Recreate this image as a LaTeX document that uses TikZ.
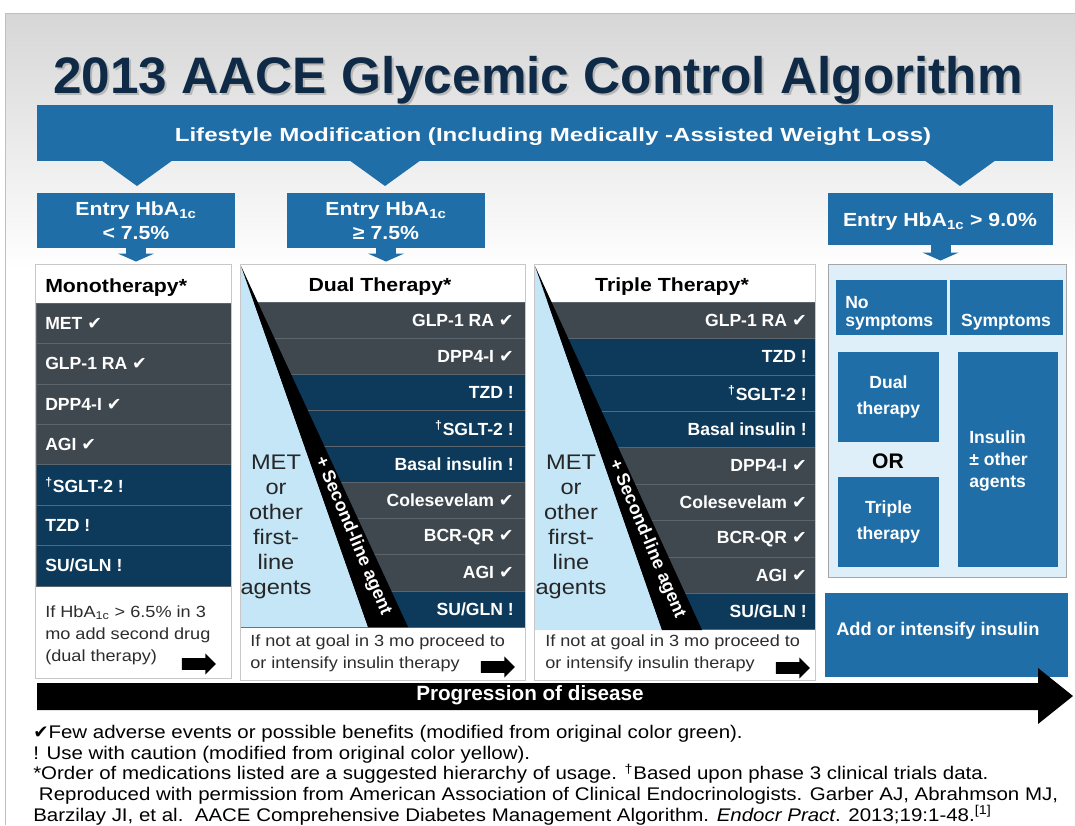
\documentclass[tikz,border=0pt]{standalone}
\usepackage{fontspec}
\setmainfont{Liberation Sans}
\newfontfamily\wideft{Liberation Sans}[FakeStretch=1.12]
\newfontfamily\widerft{Liberation Sans}[FakeStretch=1.27]
\newfontfamily\symfont{DejaVu Sans}
\usetikzlibrary{fit,arrows.meta,shapes.arrows}

\definecolor{aaceblue}{RGB}{31,110,168}
\definecolor{rowgray}{RGB}{63,71,79}
\definecolor{rownavy}{RGB}{13,57,90}
\definecolor{rowline}{RGB}{92,100,108}
\definecolor{wedgeblue}{RGB}{196,230,247}
\definecolor{panelblue}{RGB}{223,239,249}
\definecolor{titlenavy}{RGB}{15,42,70}
\definecolor{notegray}{RGB}{45,45,45}

\newcommand{\chk}{{\symfont ✔}}
\newcommand{\hba}{HbA\textsubscript{1c}}
\newcommand{\dg}{\textsuperscript{†}}

\begin{document}
\begin{tikzpicture}[x=0.025cm, y=-0.025cm,
    bluebox/.style={inner sep=0pt, fill=aaceblue, fit={#1}},
    bluetext/.style={inner sep=0pt, text=white, align=center, font=\fontsize{12.5}{12.8}\selectfont\bfseries},
    entrytext/.style={inner sep=0pt, text=white, align=center, font=\wideft\fontsize{13.5}{16.4}\selectfont\bfseries},
    colframe/.style={draw=black!22, line width=0.8pt},
    rowbox/.style={fill=#1, draw=rowline, line width=0.4pt},
    rowtext/.style={text=white, inner sep=0pt, font=\fontsize{12.5}{14}\selectfont\bfseries},
    headtext/.style={inner sep=0pt, font=\wideft\fontsize{13.5}{16}\selectfont\bfseries},
    notetext/.style={inner sep=0pt, text=notegray, align=left, font=\wideft\fontsize{11.5}{15.6}\selectfont},
    firstline/.style={inner sep=0pt, text=black!85, align=center, font=\wideft\fontsize{15}{17.8}\selectfont},
    wedgetext/.style={inner sep=0pt, text=white, rotate=-67, font=\fontsize{12.8}{14}\selectfont\bfseries},
    blkarrow/.style={single arrow, fill=black, inner xsep=0pt, inner ysep=0.14cm,
        minimum height=0.85cm, single arrow head extend=0.12cm},
    downarrow/.style={draw=aaceblue, line width=0.5cm,
        -{Triangle[length=0.2cm, width=0.9cm]}, shorten >=0.08cm},
  ]
  \useasboundingbox (0,0) rectangle (1075,825);

  % Background
  \fill[white] (0,0) rectangle (1075,825);
  \shade[top color=black!16, bottom color=white] (5,13) rectangle (1075,270);
  \draw[black!25] (5,825) -- (5,13) -- (1075,13);

  % Title
  \node[anchor=base, text=black!28, font=\fontsize{36.5}{40}\selectfont\bfseries] (titleshadow) at (540,95) {2013 AACE Glycemic Control Algorithm};
  \node[anchor=base, text=titlenavy, font=\fontsize{36.5}{40}\selectfont\bfseries] (title) at (538,93) {2013 AACE Glycemic Control Algorithm};

  % Lifestyle banner
  \node[bluebox={(37,105) (1053,161)}] (banner) {};
  \node[anchor=base, text=white, font=\widerft\fontsize{13.5}{16}\selectfont\bfseries] (bannertext) at (553,141)
    {Lifestyle Modification (Including Medically -Assisted Weight Loss)};
  \foreach \tx in {137,385,960}
    \fill[aaceblue] (\tx-36,160) -- (\tx+36,160) -- (\tx,186) -- cycle;

  % Entry HbA1c
  \node[bluebox={(37,193) (235,248)}] (entrylow) {};
  \node[entrytext, anchor=base] (entrylowtext) at (136,239) {Entry \hba\\< 7.5\%};
  \node[bluebox={(287,193) (485,248)}] (entrymid) {};
  \node[entrytext, anchor=base] (entrymidtext) at (386,239) {Entry \hba\\≥ 7.5\%};
  \node[bluebox={(828,193) (1053,245)}] (entryhigh) {};
  \node[entrytext, anchor=base] (entryhightext) at (940,226) {Entry \hba{} > 9.0\%};

  % Monotherapy
  \node[fit={(36,265) (231,678)}, inner sep=0pt, fill=white] (mono) {};
  \node[headtext, anchor=base west] (monohead) at (45,292) {Monotherapy*};
  \foreach \lbl/\col [count=\i] in {MET \chk/rowgray, GLP-1 RA \chk/rowgray, DPP4-I \chk/rowgray,
      AGI \chk/rowgray, \dg SGLT-2 !/rownavy, TZD !/rownavy, SU\slash GLN !/rownavy}{
    \filldraw[rowbox=\col] (36,{303+(\i-1)*40.4}) rectangle (231,{303+\i*40.4});
    \node[rowtext, anchor=west] (mono\i) at (45,{303+(\i-0.5)*40.4}) {\lbl};
  }
  \node[notetext, anchor=base west] (mononote) at (45,661) {If \hba{} > 6.5\% in 3\\mo add second drug\\(dual therapy)};
  \node[blkarrow] (monoarrow) at (196,664) {};
  \draw[colframe] (mono.north west) rectangle (mono.south east);

  % Dual therapy
  \node[fit={(241,265) (525,680)}, inner sep=0pt, fill=white] (dual) {};
  \node[headtext, anchor=base] (dualhead) at (380,291) {Dual Therapy*};
  \foreach \lbl/\col [count=\i] in {GLP-1 RA \chk/rowgray, DPP4-I \chk/rowgray, TZD !/rownavy,
      \dg SGLT-2 !/rownavy, Basal insulin !/rownavy, Colesevelam \chk/rowgray,
      BCR-QR \chk/rowgray, AGI \chk/rowgray, SU\slash GLN !/rownavy}{
    \filldraw[rowbox=\col] (241,{302+(\i-1)*36.1}) rectangle (525,{302+\i*36.1});
    \node[rowtext, anchor=east] (dual\i) at (514,{302+(\i-0.5)*36.1}) {\lbl};
  }
  \fill[wedgeblue] (241,266) -- (368,627) -- (241,627) -- cycle;
  \fill[black] (241,266) -- (408,627) -- (368,627) -- cycle;
  \node[wedgetext] (dualwedge) at (353,536) {+ Second-line agent};
  \node[firstline] (dualfirst) at (276,527) {MET\\or\\other\\first-\\line\\agents};
  \node[notetext, anchor=base west] (dualnote) at (250,668) {If not at goal in 3 mo proceed to\\or intensify insulin therapy};
  \node[blkarrow] (dualarrow) at (495,667) {};
  \draw[colframe] (dual.north west) rectangle (dual.south east);

  % Triple therapy
  \node[fit={(535,265) (815,680)}, inner sep=0pt, fill=white] (triple) {};
  \node[headtext, anchor=base] (triplehead) at (672,291) {Triple Therapy*};
  \foreach \lbl/\col [count=\i] in {GLP-1 RA \chk/rowgray, TZD !/rownavy, \dg SGLT-2 !/rownavy,
      Basal insulin !/rownavy, DPP4-I \chk/rowgray, Colesevelam \chk/rowgray,
      BCR-QR \chk/rowgray, AGI \chk/rowgray, SU\slash GLN !/rownavy}{
    \filldraw[rowbox=\col] (535,{302+(\i-1)*36.4}) rectangle (815,{302+\i*36.4});
    \node[rowtext, anchor=east] (triple\i) at (807,{302+(\i-0.5)*36.4}) {\lbl};
  }
  \fill[wedgeblue] (535,266) -- (662,630) -- (535,630) -- cycle;
  \fill[black] (535,266) -- (702,630) -- (662,630) -- cycle;
  \node[wedgetext] (triplewedge) at (647,539) {+ Second-line agent};
  \node[firstline] (triplefirst) at (571,527) {MET\\or\\other\\first-\\line\\agents};
  \node[notetext, anchor=base west] (triplenote) at (545,668) {If not at goal in 3 mo proceed to\\or intensify insulin therapy};
  \node[blkarrow] (triplearrow) at (790,668) {};
  \draw[colframe] (triple.north west) rectangle (triple.south east);

  % Entry > 9.0%
  \node[fit={(828,264) (1066,577)}, inner sep=0pt, fill=panelblue, draw=black!35] (severe) {};
  \node[bluebox={(836,280) (947,335)}] (nosym) {};
  \node[bluetext, align=left, anchor=base west] (nosymtext) at (845,326) {No\\symptoms};
  \node[bluebox={(950,280) (1063,335)}] (sym) {};
  \node[bluetext, anchor=base] (symtext) at (1006,326) {Symptoms};
  \node[bluebox={(838,352) (939,442)}] (dualrx) {};
  \node[bluetext, font=\fontsize{12.5}{18}\selectfont\bfseries] (dualrxtext) at (dualrx) {Dual\\therapy};
  \node[font=\fontsize{15}{17}\selectfont\bfseries] (ortext) at (888,461) {OR};
  \node[bluebox={(838,477) (939,567)}] (triplerx) {};
  \node[bluetext, font=\fontsize{12.5}{18}\selectfont\bfseries] (triplerxtext) at (triplerx) {Triple\\therapy};
  \node[bluebox={(958,352) (1058,567)}] (insulin) {};
  \node[bluetext, align=left, anchor=west, font=\fontsize{12.5}{15.5}\selectfont\bfseries] (insulintext) at (969,461) {Insulin\\± other\\agents};
  \node[bluebox={(825,593) (1068,677)}] (addins) {};
  \node[anchor=west, inner sep=0pt, text=white, font=\fontsize{13}{14}\selectfont\bfseries] (addinstext) at (836,631) {Add or intensify insulin};

  % Down arrows
  \draw[downarrow] (entrylow.south) -- (entrylow.south |- mono.north);
  \draw[downarrow] (entrymid.south) -- (entrymid.south |- dual.north);
  \draw[downarrow] (entryhigh.south) -- (entryhigh.south |- severe.north);

  % Progression of disease
  \fill[black] (37,683) -- (1038,683) -- (1038,668) -- (1073,696) -- (1038,724) -- (1038,710) -- (37,710) -- cycle;
  \node[text=white, font=\fontsize{14.7}{16}\selectfont\bfseries] (progress) at (530,695) {Progression of disease};

  % Footnotes
  \node[anchor=base west, inner sep=0pt, align=left, font=\wideft\fontsize{13}{14.6}\selectfont] (footer) at (33,821)
    {\chk Few adverse events or possible benefits (modified from original color green).\\
     ! Use with caution (modified from original color yellow).\\
     *Order of medications listed are a suggested hierarchy of usage. \dg Based upon phase 3 clinical trials data.\\
     \ Reproduced with permission from American Association of Clinical Endocrinologists. Garber AJ, Abrahmson MJ,\\
     Barzilay JI, et al.\ \ AACE Comprehensive Diabetes Management Algorithm. \textit{Endocr Pract}. 2013;19:1-48.\textsuperscript{[1]}};
\end{tikzpicture}
\end{document}
